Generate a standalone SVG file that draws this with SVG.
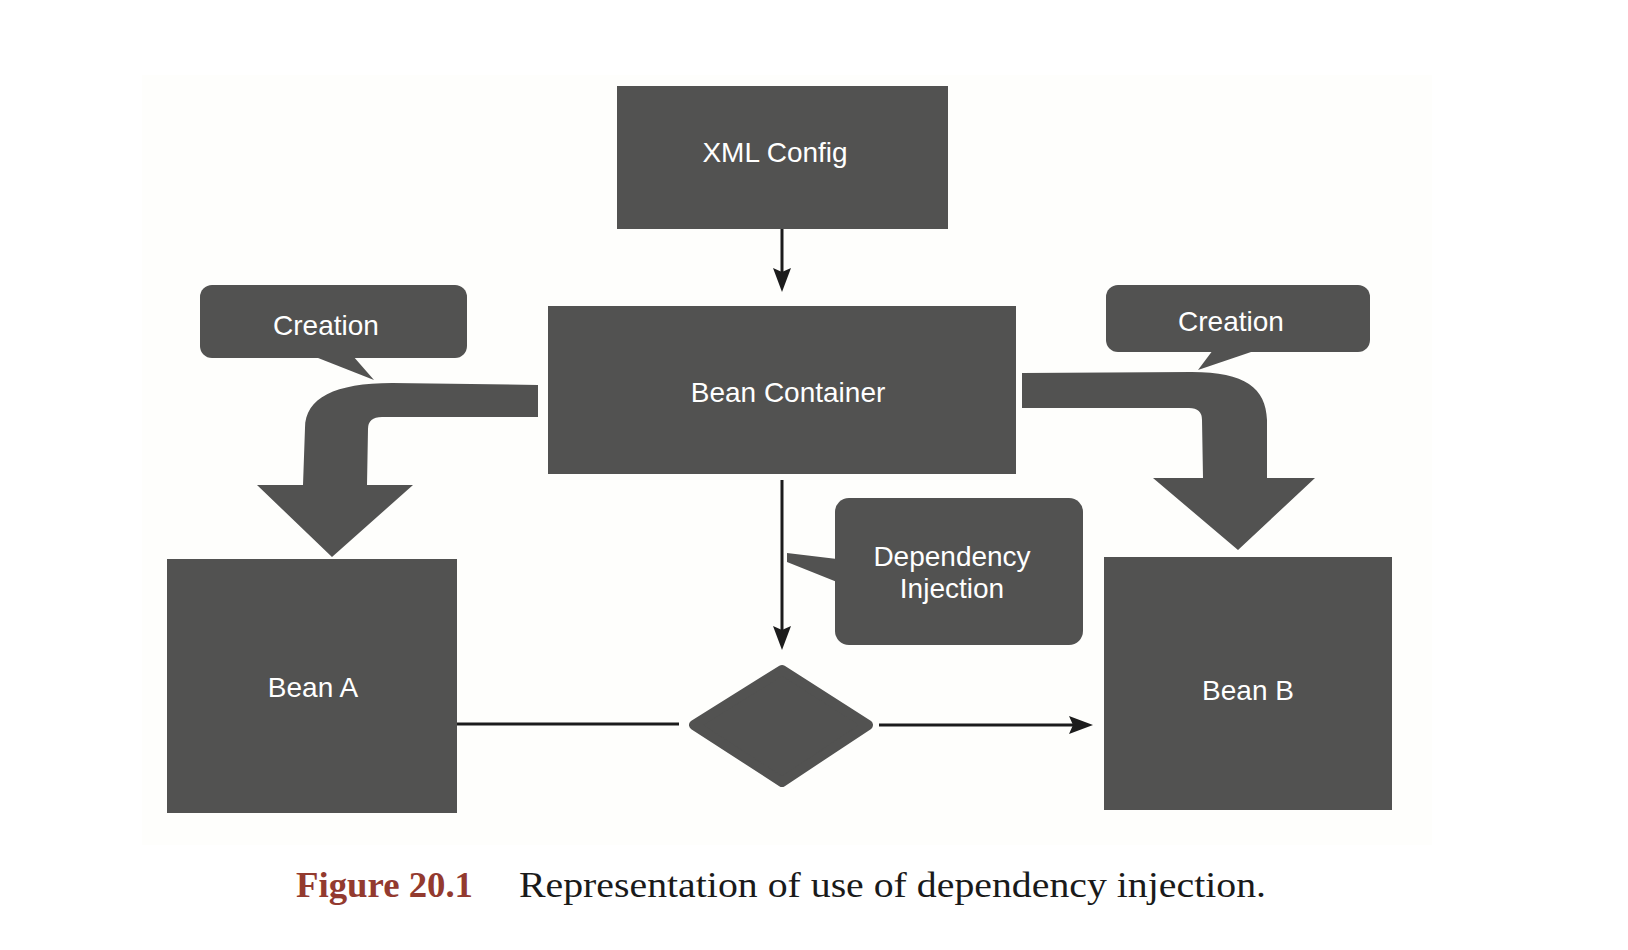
<svg xmlns="http://www.w3.org/2000/svg" width="1628" height="950" viewBox="0 0 1628 950">
<style>
.box{fill:#525251}
.lbl{font-family:"Liberation Sans",Arial,sans-serif;font-size:28px;fill:#ffffff;text-anchor:middle}
.ln{stroke:#1c1c1c;stroke-width:3;fill:none}
.head{fill:#1c1c1c}
.cap{font-family:"Liberation Serif","Times New Roman",serif;font-size:35px}
</style>
<rect x="0" y="0" width="1628" height="950" fill="#ffffff"/>
<rect x="142" y="75" width="1290" height="770" fill="#fefefc"/>

<g id="connectors">
<path class="ln" d="M782,229 L782,272"/>
<path class="head" d="M773,268 L782,272 L791,268 L782,292 Z"/>
<path class="ln" d="M782,480 L782,630"/>
<path class="head" d="M773,626 L782,630 L791,626 L782,650 Z"/>
<path class="ln" d="M457,724 L679,724"/>
<path class="ln" d="M879,725 L1073,725"/>
<path class="head" d="M1069,716 L1073,725 L1069,734 L1093,725 Z"/>
<path id="arrowLeft" class="box" d="M538,385 L392,383 C335,383 305,398 305,428 L303,485 L257,485 L332,557 L413,485 L367,485 L368,429 Q368,417 382,417 L538,417 Z"/>
<path id="arrowRight" class="box" d="M1022,373 L1192,372 C1245,372 1266,388 1267,420 L1267,478 L1315,478 L1238,550 L1153,478 L1203,478 L1202,420 Q1202,408 1189,408 L1022,408 Z"/>
</g>

<g id="xml-config">
<rect class="box" x="617" y="86" width="331" height="143"/>
<text class="lbl" x="775" y="162">XML Config</text>
</g>

<g id="bean-container">
<rect class="box" x="548" y="306" width="468" height="168"/>
<text class="lbl" x="788" y="402">Bean Container</text>
</g>

<g id="creation-left">
<rect class="box" x="200" y="285" width="267" height="73" rx="12"/>
<polygon class="box" points="313,356 374,380 353,356"/>
<text class="lbl" x="326" y="335">Creation</text>
</g>

<g id="creation-right">
<rect class="box" x="1106" y="285" width="264" height="67" rx="12"/>
<polygon class="box" points="1213,350 1198,370 1257,350"/>
<text class="lbl" x="1231" y="331">Creation</text>
</g>

<g id="dependency-injection">
<rect class="box" x="835" y="498" width="248" height="147" rx="14"/>
<polygon class="box" points="837,559 787,553 787,562 837,582"/>
<text class="lbl" x="952" y="566">Dependency</text>
<text class="lbl" x="952" y="598">Injection</text>
</g>

<g id="bean-a">
<rect class="box" x="167" y="559" width="290" height="254"/>
<text class="lbl" x="313" y="697">Bean A</text>
</g>

<g id="bean-b">
<rect class="box" x="1104" y="557" width="288" height="253"/>
<text class="lbl" x="1248" y="700">Bean B</text>
</g>

<g id="decision">
<polygon class="box" points="782,670 868,725 782,782 694,725" stroke="#525251" stroke-width="10" stroke-linejoin="round"/>
</g>

<g id="caption">
<text class="cap" x="296" y="897" font-weight="bold" fill="#933a2f" textLength="177" lengthAdjust="spacingAndGlyphs">Figure 20.1</text>
<text class="cap" x="519" y="897" fill="#1a1a1a" textLength="747" lengthAdjust="spacingAndGlyphs">Representation of use of dependency injection.</text>
</g>
</svg>
